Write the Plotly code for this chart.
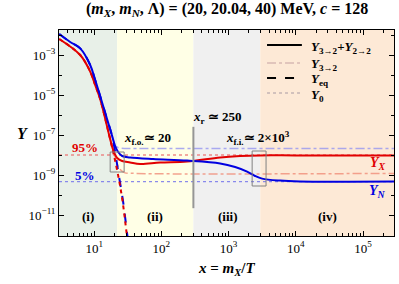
import math
import plotly.graph_objects as go

# ---- data (log10 values) ----
# total yields Y_{3->2}+Y_{2->2}
lx_X = [0.48, 0.792, 0.941, 1.015, 1.089, 1.223, 1.283, 1.342, 1.416, 1.535, 1.684, 1.981, 2.383, 2.874, 3.17, 3.468, 4.0, 5.46]
ly_X = [-2.2, -3.0, -3.83, -4.5, -5.2, -7.0, -7.75, -8.15, -8.3, -8.37, -8.45, -8.38, -8.33, -8.12, -8.05, -8.02, -8.02, -8.02]
lx_N = [0.48, 0.643, 0.792, 0.941, 1.015, 1.089, 1.178, 1.263, 1.312, 1.357, 1.416, 1.535, 1.877, 2.383, 2.874, 3.097, 3.275, 3.394, 3.498, 3.766, 4.063, 5.46]
ly_N = [-1.95, -2.35, -2.67, -3.5, -4.25, -5.05, -6.05, -7.0, -7.55, -7.85, -8.05, -8.12, -8.2, -8.28, -8.42, -8.6, -8.83, -9.05, -9.18, -9.28, -9.32, -9.33]
# equilibrium yields
lx_eqX = [0.48, 0.792, 0.941, 1.015, 1.089, 1.223, 1.283, 1.35, 1.42, 1.488, 1.52]
ly_eqX = [-2.2, -3.0, -3.83, -4.5, -5.2, -7.0, -7.85, -8.9, -10.25, -12.05, -12.9]
lx_eqN = [0.48, 0.643, 0.792, 0.941, 1.015, 1.089, 1.178, 1.263, 1.312, 1.361, 1.427, 1.495, 1.53]
ly_eqN = [-1.95, -2.35, -2.67, -3.5, -4.25, -5.05, -6.05, -7.0, -7.85, -8.9, -10.25, -12.05, -12.9]
# 3->2 only yields
lx_32X = [1.223, 1.283, 1.33, 1.38, 1.45, 1.6, 5.46]
ly_32X = [-7.0, -7.75, -8.3, -8.7, -8.88, -8.92, -8.92]
lx_32N = [1.263, 1.3, 1.34, 1.4, 1.5, 5.46]
ly_32N = [-7.0, -7.4, -7.6, -7.66, -7.67, -7.67]
# Y_0 levels
Y0_X = -8.0
Y0_N = -9.33
x_range = [0.477, 5.46]
y_range = [-12.05, -1.75]
# region boundaries (log10 x)
bounds = [0.477, 1.342, 2.476, 3.47, 5.46]
region_colors = ["rgb(232,240,232)", "rgb(255,255,230)", "rgb(240,240,240)", "rgb(253,233,214)"]
region_labels = ["(i)", "(ii)", "(iii)", "(iv)"]
region_label_x = [0.91, 1.907, 2.993, 4.465]
yticks = [-11, -9, -7, -5, -3]
xticks = [1, 2, 3, 4, 5]

RED = "rgb(225,0,0)"
BLUE = "rgb(0,0,225)"
FONT = "Liberation Serif"

def p(v):
    return [10 ** a for a in v]

fig = go.Figure()

# Y_0 dotted
for lvl, col in [(Y0_X, "rgba(235,110,110,0.8)"), (Y0_N, "rgba(110,110,235,0.8)")]:
    fig.add_trace(go.Scatter(x=p(x_range), y=p([lvl, lvl]), mode="lines",
                             line=dict(color=col, width=1.3, dash="dot"), showlegend=False))
# 3->2 dash-dot
fig.add_trace(go.Scatter(x=p(lx_32X), y=p(ly_32X), mode="lines", line_shape="spline",
                         line=dict(color="rgba(240,140,120,0.8)", width=1.5, dash="dashdot"), showlegend=False))
fig.add_trace(go.Scatter(x=p(lx_32N), y=p(ly_32N), mode="lines", line_shape="spline",
                         line=dict(color="rgba(150,150,240,0.8)", width=1.5, dash="dashdot"), showlegend=False))
# equilibrium dashed
fig.add_trace(go.Scatter(x=p(lx_eqN), y=p(ly_eqN), mode="lines", line_shape="spline",
                         line=dict(color=BLUE, width=2, dash="dash"), showlegend=False))
fig.add_trace(go.Scatter(x=p(lx_eqX), y=p(ly_eqX), mode="lines", line_shape="spline",
                         line=dict(color=RED, width=2, dash="4px,4px"), showlegend=False))
# totals
fig.add_trace(go.Scatter(x=p(lx_X), y=p(ly_X), mode="lines", line_shape="spline",
                         line=dict(color=RED, width=2), showlegend=False))
fig.add_trace(go.Scatter(x=p(lx_N), y=p(ly_N), mode="lines", line_shape="spline",
                         line=dict(color=BLUE, width=2), showlegend=False))

shapes = []
for i in range(4):
    shapes.append(dict(type="rect", xref="x", yref="paper", x0=10 ** bounds[i], x1=10 ** bounds[i + 1],
                       y0=0, y1=1, fillcolor=region_colors[i], line_width=0, layer="below"))
# freeze-out / freeze-in boxes and x_r line
shapes.append(dict(type="rect", xref="x", yref="y", x0=10 ** 1.238, x1=10 ** 1.446,
                   y0=10 ** -8.85, y1=10 ** -7.85, line=dict(color="rgb(130,130,130)", width=1)))
shapes.append(dict(type="rect", xref="x", yref="y", x0=10 ** 3.35, x1=10 ** 3.557,
                   y0=10 ** -9.55, y1=10 ** -7.8, line=dict(color="rgb(130,130,130)", width=1)))
shapes.append(dict(type="line", xref="x", yref="paper", x0=10 ** 2.476, x1=10 ** 2.476,
                   y0=0.53, y1=0.135, line=dict(color="rgb(150,150,150)", width=2)))

ann = []
def A(x, y, t, col="black", size=13):
    ann.append(dict(x=x, y=y, xref="x", yref="y", text=t, showarrow=False,
                    font=dict(family=FONT, size=size, color=col)))
for lx, t in zip(region_label_x, region_labels):
    A(lx, -11.05, "<b>" + t + "</b>")
A(0.866, -7.6, "<b>95%</b>", RED)
A(0.866, -9.0, "<b>5%</b>", BLUE)
A(1.79, -7.15, "<b><i>x</i><sub>f.o.</sub>≃ 20</b>")
A(3.43, -7.15, "<b><i>x</i><sub>f.i.</sub>≃ 2×10<sup>3</sup></b>")
A(5.22, -8.4, "<b><i>Y<sub>X</sub></i></b>", RED, 14)
A(5.22, -9.8, "<b><i>Y<sub>N</sub></i></b>", BLUE, 14)
ann.append(dict(x=2.83, y=0.575, xref="x", yref="paper", yanchor="middle",
                text="<b><i>x</i><sub>r</sub> ≃ 250</b>", showarrow=False,
                font=dict(family=FONT, size=13, color="black")))

# manual legend (paper coordinates)
leg_names = ["<b><i>Y</i><sub>3→2</sub>+<i>Y</i><sub>2→2</sub></b>", "<b><i>Y</i><sub>3→2</sub></b>",
             "<b><i>Y</i><sub>eq</sub></b>", "<b><i>Y</i><sub>0</sub></b>"]
leg_cols = ["black", "rgb(215,185,180)", "black", "rgb(195,180,180)"]
leg_dash = ["solid", "dashdot", "dash", "dot"]
leg_w = [2, 1.5, 2, 1.5]
leg_y = [0.927, 0.840, 0.767, 0.694]
for name, col, dsh, w, ly in zip(leg_names, leg_cols, leg_dash, leg_w, leg_y):
    shapes.append(dict(type="line", xref="paper", yref="paper", x0=0.621, x1=0.725, y0=ly, y1=ly,
                       line=dict(color=col, width=w, dash=dsh)))
    ann.append(dict(x=0.745, y=ly, xref="paper", yref="paper", xanchor="left", yanchor="middle",
                    yshift=-2, text=name, showarrow=False, font=dict(family=FONT, size=13, color="black")))

ann.append(dict(x=0.5, y=1.0, xref="paper", yref="paper", yshift=9, yanchor="bottom", showarrow=False,
                text="<b>(<i>m<sub>X</sub></i>, <i>m<sub>N</sub></i>, Λ) = (20, 20.04, 40) MeV, <i>c</i> = 128</b>",
                font=dict(family=FONT, size=16, color="black")))
ann.append(dict(x=-0.13, y=0.5, xref="paper", yref="paper", showarrow=False,
                text="<b><i>Y</i></b>", font=dict(family=FONT, size=16, color="black")))
ann.append(dict(x=0.5, y=-0.16, xref="paper", yref="paper", yanchor="middle", showarrow=False,
                text="<b><i>x</i> = <i>m<sub>X</sub></i>/<i>T</i></b>", font=dict(family=FONT, size=15, color="black")))

fig.update_layout(
    width=399, height=284,
    margin=dict(l=59, r=5, t=30, b=48),
    plot_bgcolor="white", paper_bgcolor="white",
    font=dict(family=FONT, size=13, color="black"),
    shapes=shapes, annotations=ann, showlegend=False,
)
minor_x = [m * 10 ** d for d in range(0, 6) for m in range(2, 10)
           if x_range[0] < math.log10(m * 10 ** d) < x_range[1]]
fig.update_xaxes(type="log", range=x_range, showgrid=False, zeroline=False,
                 showline=True, linecolor="black", linewidth=1, mirror="allticks",
                 ticks="inside", ticklen=5, tickcolor="black",
                 tickvals=[10 ** v for v in xticks],
                 ticktext=["10<sup>%d</sup>" % v for v in xticks],
                 minor=dict(ticks="inside", ticklen=3, tickcolor="black", tickvals=minor_x))
fig.update_yaxes(type="log", range=y_range, showgrid=False, zeroline=False,
                 showline=True, linecolor="black", linewidth=1, mirror="allticks",
                 ticks="inside", ticklen=5, tickcolor="black",
                 tickvals=[10 ** v for v in yticks],
                 ticktext=["10<sup>−%d</sup>" % (-v) for v in yticks],
                 minor=dict(ticks="inside", ticklen=3, tickcolor="black",
                            tickvals=[10 ** v for v in range(-12, -1)]))

fig.write_html("out.html", config={"displayModeBar": False},
               post_script="document.body.style.margin='0';")
